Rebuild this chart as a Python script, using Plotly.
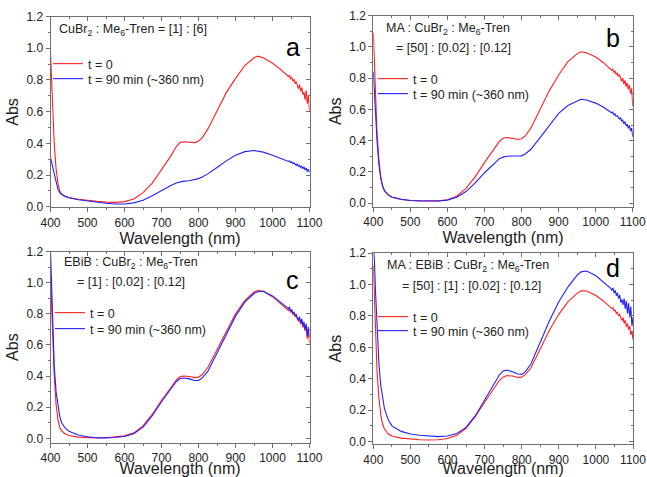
import plotly.graph_objects as go

# wavelength grid (nm): smooth part, then the noisy tail read at finer spacing
WL = [400, 403, 406, 410, 415, 420, 425, 430, 440, 450, 475, 500, 525, 550, 575,
      600, 625, 650, 675, 700, 725, 740, 750, 760, 775, 790, 800, 810, 825, 850,
      875, 900, 925, 950, 960, 975, 1000, 1020, 1035,
      1040, 1043, 1046, 1049, 1052, 1055, 1058, 1061, 1064, 1067, 1070, 1073,
      1076, 1079, 1082, 1085, 1088, 1091, 1094, 1097, 1100]

# panel a
A_T0 = [0.97, 0.80, 0.60, 0.40, 0.24, 0.15, 0.10, 0.08, 0.065, 0.058, 0.048, 0.040,
        0.035, 0.030, 0.028, 0.033, 0.050, 0.090, 0.150, 0.235, 0.320, 0.380, 0.405,
        0.410, 0.408, 0.405, 0.415, 0.435, 0.490, 0.610, 0.720, 0.810, 0.890, 0.940,
        0.950, 0.940, 0.905, 0.870, 0.840,
        0.830, 0.822, 0.828, 0.808, 0.815, 0.792, 0.805, 0.776, 0.790, 0.768, 0.745,
        0.770, 0.728, 0.752, 0.708, 0.722, 0.676, 0.735, 0.650, 0.700, 0.600]
A_T90 = [0.31, 0.28, 0.24, 0.20, 0.15, 0.11, 0.09, 0.078, 0.066, 0.058, 0.045, 0.037,
         0.030, 0.023, 0.018, 0.018, 0.025, 0.042, 0.070, 0.105, 0.135, 0.150, 0.158,
         0.162, 0.165, 0.170, 0.178, 0.188, 0.208, 0.248, 0.290, 0.325, 0.348, 0.355,
         0.352, 0.345, 0.325, 0.308, 0.295,
         0.290, 0.286, 0.289, 0.280, 0.284, 0.272, 0.278, 0.268, 0.262, 0.270, 0.255,
         0.262, 0.248, 0.256, 0.240, 0.252, 0.232, 0.245, 0.222, 0.238, 0.215]

# panel b
B_T0 = [1.09, 0.85, 0.65, 0.45, 0.28, 0.17, 0.11, 0.08, 0.052, 0.038, 0.025, 0.018,
        0.016, 0.014, 0.015, 0.022, 0.045, 0.095, 0.170, 0.260, 0.345, 0.395, 0.415,
        0.420, 0.415, 0.408, 0.412, 0.430, 0.480, 0.600, 0.720, 0.820, 0.905, 0.955,
        0.968, 0.962, 0.935, 0.900, 0.870,
        0.860, 0.850, 0.858, 0.838, 0.845, 0.825, 0.832, 0.810, 0.822, 0.795, 0.780,
        0.800, 0.762, 0.785, 0.745, 0.770, 0.728, 0.755, 0.700, 0.735, 0.620]
B_T90 = [0.84, 0.70, 0.55, 0.40, 0.25, 0.16, 0.11, 0.08, 0.055, 0.040, 0.026, 0.018,
         0.015, 0.013, 0.014, 0.020, 0.038, 0.075, 0.130, 0.195, 0.255, 0.285, 0.295,
         0.300, 0.302, 0.300, 0.303, 0.315, 0.345, 0.420, 0.500, 0.575, 0.625, 0.655,
         0.665, 0.660, 0.640, 0.615, 0.590,
         0.585, 0.578, 0.583, 0.565, 0.572, 0.556, 0.560, 0.545, 0.538, 0.548, 0.525,
         0.532, 0.508, 0.522, 0.495, 0.505, 0.478, 0.498, 0.462, 0.480, 0.425]

# panel c
C_T0 = [1.04, 0.80, 0.60, 0.40, 0.22, 0.12, 0.07, 0.048, 0.028, 0.018, 0.008, 0.004,
        0.003, 0.004, 0.008, 0.016, 0.035, 0.080, 0.155, 0.245, 0.325, 0.375, 0.395,
        0.400, 0.397, 0.390, 0.393, 0.410, 0.455, 0.570, 0.690, 0.800, 0.885, 0.940,
        0.950, 0.945, 0.910, 0.870, 0.840,
        0.830, 0.822, 0.830, 0.808, 0.818, 0.795, 0.802, 0.780, 0.788, 0.765, 0.752,
        0.770, 0.735, 0.752, 0.712, 0.728, 0.690, 0.712, 0.640, 0.690, 0.610]
C_T90 = [1.20, 0.95, 0.70, 0.47, 0.30, 0.20, 0.14, 0.10, 0.065, 0.045, 0.022, 0.010,
         0.004, 0.003, 0.005, 0.012, 0.030, 0.072, 0.145, 0.235, 0.315, 0.365, 0.383,
         0.388, 0.382, 0.372, 0.372, 0.388, 0.430, 0.545, 0.670, 0.785, 0.875, 0.930,
         0.942, 0.945, 0.915, 0.880, 0.850,
         0.840, 0.832, 0.845, 0.815, 0.828, 0.802, 0.812, 0.790, 0.798, 0.770, 0.762,
         0.782, 0.740, 0.768, 0.722, 0.748, 0.700, 0.735, 0.660, 0.715, 0.650]

# panel d
D_T0 = [1.12, 0.88, 0.66, 0.45, 0.28, 0.17, 0.11, 0.08, 0.050, 0.036, 0.022, 0.015,
        0.012, 0.010, 0.012, 0.020, 0.040, 0.085, 0.160, 0.250, 0.335, 0.390, 0.410,
        0.420, 0.417, 0.408, 0.410, 0.428, 0.470, 0.590, 0.710, 0.810, 0.890, 0.945,
        0.960, 0.958, 0.930, 0.895, 0.865,
        0.855, 0.846, 0.852, 0.830, 0.838, 0.815, 0.822, 0.800, 0.808, 0.782, 0.770,
        0.790, 0.752, 0.772, 0.732, 0.752, 0.712, 0.735, 0.680, 0.705, 0.650]
D_T90 = [1.25, 1.15, 0.95, 0.72, 0.50, 0.36, 0.27, 0.21, 0.14, 0.10, 0.065, 0.048,
         0.040, 0.034, 0.032, 0.036, 0.052, 0.090, 0.165, 0.265, 0.360, 0.425, 0.450,
         0.455, 0.445, 0.430, 0.428, 0.445, 0.495, 0.635, 0.770, 0.890, 0.985, 1.060,
         1.080, 1.085, 1.055, 1.015, 0.985,
         0.975, 0.962, 0.978, 0.945, 0.962, 0.928, 0.948, 0.910, 0.932, 0.885, 0.905,
         0.870, 0.910, 0.845, 0.895, 0.815, 0.880, 0.790, 0.860, 0.735, 0.790]

LEGEND_NAMES = ["t = 0", "t = 90 min (~360 nm)"]
X_TICKS = [400, 500, 600, 700, 800, 900, 1000, 1100]
Y_TICKS = [0.0, 0.2, 0.4, 0.6, 0.8, 1.0, 1.2]

RED = "#ff2020"
BLUE = "#2020ff"
FONT = "Liberation Sans, Arial, sans-serif"
INK = "#222222"
AXIS = "#707070"

# panel setup: domains, y range start, label texts, legend pixel positions
panels = [
    dict(data=(A_T0, A_T90), xd=[0.0781, 0.4784], yd=[0.5650, 0.9654], ylo=-0.004,
         lines=["CuBr<sub>2</sub> : Me<sub>6</sub>-Tren = [1] : [6]"],
         line_pos=[(0.025, 0.929)], letter="a", letter_pos=(0.936, 0.842),
         leg_x=53, leg_y=(62, 77)),
    dict(data=(B_T0, B_T90), xd=[0.5770, 0.9780], yd=[0.5660, 0.9675], ylo=-0.024,
         lines=["MA : CuBr<sub>2</sub> : Me<sub>6</sub>-Tren",
                "= [50] : [0.02] : [0.12]"],
         line_pos=[(0.041, 0.928), (0.080, 0.829)], letter="b", letter_pos=(0.924, 0.883),
         leg_x=378, leg_y=(77, 92)),
    dict(data=(C_T0, C_T90), xd=[0.0781, 0.4784], yd=[0.0719, 0.4727], ylo=-0.028,
         lines=["EBiB : CuBr<sub>2</sub> : Me<sub>6</sub>-Tren",
                "= [1] : [0.02] : [0.12]"],
         line_pos=[(0.043, 0.938), (0.095, 0.839)], letter="c", letter_pos=(0.936, 0.851),
         leg_x=55, leg_y=(311, 327)),
    dict(data=(D_T0, D_T90), xd=[0.5770, 0.9784], yd=[0.0686, 0.4696], ylo=-0.017,
         lines=["MA : EBiB : CuBr<sub>2</sub> : Me<sub>6</sub>-Tren",
                "= [50] : [1] : [0.02] : [0.12]"],
         line_pos=[(0.045, 0.932), (0.101, 0.8275)], letter="d", letter_pos=(0.923, 0.922),
         leg_x=378, leg_y=(315, 329)),
]

W, H = 647, 477
fig = go.Figure()
layout = dict(
    width=W, height=H,
    margin=dict(l=0, r=0, t=0, b=0, autoexpand=False),
    paper_bgcolor="white", plot_bgcolor="white",
    font=dict(family=FONT, color=INK, size=12),
    showlegend=True,
)
annotations = []
leg_n = 0

for i, p in enumerate(panels, start=1):
    xs = "" if i == 1 else str(i)
    xa, ya = "x" + xs, "y" + xs

    for series, color, name, cy in zip(p["data"], (RED, BLUE), LEGEND_NAMES, p["leg_y"]):
        leg_n += 1
        leg = "legend" if leg_n == 1 else f"legend{leg_n}"
        fig.add_trace(go.Scatter(
            x=WL, y=series, mode="lines", name=name,
            line=dict(color=color, width=1.1),
            xaxis=xa, yaxis=ya, legend=leg,
        ))
        # one legend per entry so each row sits where the reference has it
        layout[leg] = dict(
            x=(p["leg_x"] - 5) / W, y=1 - (cy - 13) / H,
            xanchor="left", yanchor="top",
            bgcolor="rgba(0,0,0,0)", borderwidth=0,
            font=dict(size=12.5, color=INK), itemwidth=30,
        )

    yr = [p["ylo"], 1.2]
    layout["xaxis" + xs] = dict(
        domain=p["xd"], anchor=ya, range=[400, 1100],
        tickvals=X_TICKS, ticks="outside", ticklen=4, tickcolor=AXIS,
        minor=dict(dtick=50, ticks="outside", ticklen=2, tickcolor=AXIS),
        showline=True, linecolor=AXIS, linewidth=1, mirror=True,
        showgrid=False, zeroline=False,
        tickfont=dict(size=12, color=INK),
        title=dict(text="Wavelength (nm)", font=dict(size=16, color=INK), standoff=0),
    )
    layout["yaxis" + xs] = dict(
        domain=p["yd"], anchor=xa, range=yr,
        tickvals=Y_TICKS, tickformat=".1f", ticks="outside", ticklen=4, tickcolor=AXIS,
        minor=dict(dtick=0.1, tick0=0, ticks="outside", ticklen=2, tickcolor=AXIS),
        showline=True, linecolor=AXIS, linewidth=1, mirror=True,
        showgrid=False, zeroline=False,
        tickfont=dict(size=12, color=INK),
        title=dict(text="Abs", font=dict(size=16, color=INK), standoff=3),
    )
    # inward ticks on the top and right edges
    layout["xaxis" + str(i + 4)] = dict(
        overlaying=xa, anchor=ya, side="top", range=[400, 1100],
        tickvals=X_TICKS, ticks="inside", ticklen=4, tickcolor=AXIS,
        minor=dict(dtick=50, ticks="inside", ticklen=2, tickcolor=AXIS),
        showticklabels=False, showline=False, showgrid=False, zeroline=False,
    )
    layout["yaxis" + str(i + 4)] = dict(
        overlaying=ya, anchor=xa, side="right", range=yr,
        tickvals=Y_TICKS, ticks="inside", ticklen=4, tickcolor=AXIS,
        minor=dict(dtick=0.1, tick0=0, ticks="inside", ticklen=2, tickcolor=AXIS),
        showticklabels=False, showline=False, showgrid=False, zeroline=False,
    )

    for text, (tx, ty) in zip(p["lines"], p["line_pos"]):
        annotations.append(dict(
            text=text, xref=xa + " domain", yref=ya + " domain", x=tx, y=ty,
            xanchor="left", yanchor="middle", showarrow=False,
            font=dict(size=12.5, color=INK),
        ))
    annotations.append(dict(
        text=p["letter"], xref=xa + " domain", yref=ya + " domain",
        x=p["letter_pos"][0], y=p["letter_pos"][1],
        xanchor="center", yanchor="middle", showarrow=False,
        font=dict(size=25, color="black", family=FONT),
    ))

layout["annotations"] = annotations
fig.update_layout(**layout)

# keep the overlay axes active in the layout
for i in range(1, 5):
    fig.add_trace(go.Scatter(x=[], y=[], xaxis="x" + str(i + 4), yaxis="y" + str(i + 4),
                             showlegend=False, hoverinfo="skip"))

# drop the browser's default body margin so the figure sits at the page corner
fig.write_html("out.html", config={"displayModeBar": False},
               post_script="document.body.style.margin = '0';")
